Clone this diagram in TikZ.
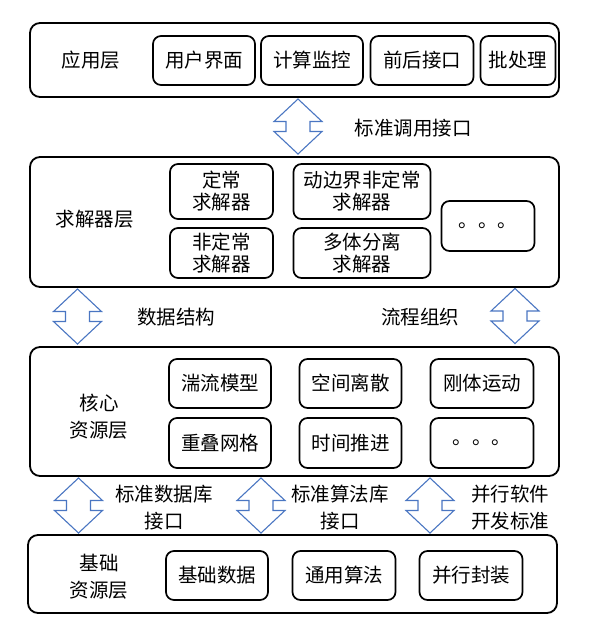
\documentclass[tikz,border=0pt]{standalone}
\usepackage{fontspec}
\newfontfamily\cjk{Noto Sans CJK SC}
\definecolor{arrowblue}{RGB}{74,118,194}
\newcommand\myblockarrow[1]{%
  \draw[barrow] (#1) ++(0,-27.5) -- ++(24,22.5) -- ++(-12,0) -- ++(0,10) -- ++(12,0)
    -- ++(-24,22.5) -- ++(-24,-22.5) -- ++(12,0) -- ++(0,-10) -- ++(-12,0) -- cycle;}
\begin{document}
\begin{tikzpicture}[x=1pt,y=-1pt,
  layer/.style={draw, line width=1.8pt, rounded corners=10pt, inner sep=0pt, minimum width=529pt},
  item/.style={draw, line width=1.7pt, rounded corners=8pt, inner sep=0pt, align=center,
    font=\cjk\fontsize{19.5}{22}\selectfont},
  lbl/.style={align=center, inner sep=0pt, font=\cjk\fontsize{19.5}{27}\selectfont},
  barrow/.style={draw=arrowblue, fill=white, line width=1.1pt, line join=miter}]
\useasboundingbox (0,0) rectangle (590,622);
% application layer
\node[layer, minimum height=74pt] (app) at (294.5,60) {};
\node[lbl] (appl) at (91,60) {应用层};
\node[item, minimum width=102pt, minimum height=49pt] (ui) at (204,60.5) {用户界面};
\node[item, minimum width=102pt, minimum height=49pt] (mon) at (312,60.5) {计算监控};
\node[item, minimum width=103pt, minimum height=49pt] (io) at (422,60.5) {前后接口};
\node[item, minimum width=75pt, minimum height=49pt] (batch) at (518,60.5) {批处理};
% arrow 1
\coordinate (a1) at (298,126.5);
\myblockarrow{a1}
\node[lbl] (a1l) at (413,128) {标准调用接口};
% solver layer
\node[layer, minimum height=130pt] (sol) at (294.5,222) {};
\node[lbl] (soll) at (95,219) {求解器层};
\node[item, minimum width=103pt, minimum height=55pt] (s1) at (221.5,191.5) {定常\\求解器};
\node[item, minimum width=137pt, minimum height=55pt] (s2) at (362,191.5) {动边界非定常\\求解器};
\node[item, minimum width=103pt, minimum height=50pt] (s3) at (221.5,253) {非定常\\求解器};
\node[item, minimum width=137pt, minimum height=50pt] (s4) at (362,253) {多体分离\\求解器};
\node[item, minimum width=93pt, minimum height=50pt] (s5) at (488,226) {。。。};
% arrows 2
\coordinate (a2) at (77.5,316.5);
\myblockarrow{a2}
\node[lbl] (a2l) at (176,317) {数据结构};
\coordinate (a3) at (515,316);
\myblockarrow{a3}
\node[lbl] (a3l) at (420,317) {流程组织};
% core layer
\node[layer, minimum height=129pt] (core) at (294.5,411.5) {};
\node[lbl] (corel) at (99,416.5) {核心\\资源层};
\node[item, minimum width=102pt, minimum height=49pt] (c1) at (220,383.5) {湍流模型};
\node[item, minimum width=102pt, minimum height=49pt] (c2) at (350.5,383.5) {空间离散};
\node[item, minimum width=103pt, minimum height=49pt] (c3) at (482,383.5) {刚体运动};
\node[item, minimum width=102pt, minimum height=50pt] (c4) at (220,443) {重叠网格};
\node[item, minimum width=102pt, minimum height=50pt] (c5) at (350.5,443) {时间推进};
\node[item, minimum width=103pt, minimum height=50pt] (c6) at (482,443) {。。。};
% arrows 3
\coordinate (b1) at (78.5,505.5);
\myblockarrow{b1}
\node[lbl] (b1l) at (164,507.5) {标准数据库\\接口};
\coordinate (b2) at (261,505.5);
\myblockarrow{b2}
\node[lbl] (b2l) at (340,507.5) {标准算法库\\接口};
\coordinate (b3) at (430,505.5);
\myblockarrow{b3}
\node[lbl] (b3l) at (510,507.5) {并行软件\\开发标准};
% base layer
\node[layer, minimum height=78pt] (base) at (292.5,574) {};
\node[lbl] (basel) at (99,576.5) {基础\\资源层};
\node[item, minimum width=102pt, minimum height=49pt] (d1) at (217,575.5) {基础数据};
\node[item, minimum width=103pt, minimum height=49pt] (d2) at (344,575.5) {通用算法};
\node[item, minimum width=103pt, minimum height=49pt] (d3) at (471,575.5) {并行封装};
\end{tikzpicture}
\end{document}
